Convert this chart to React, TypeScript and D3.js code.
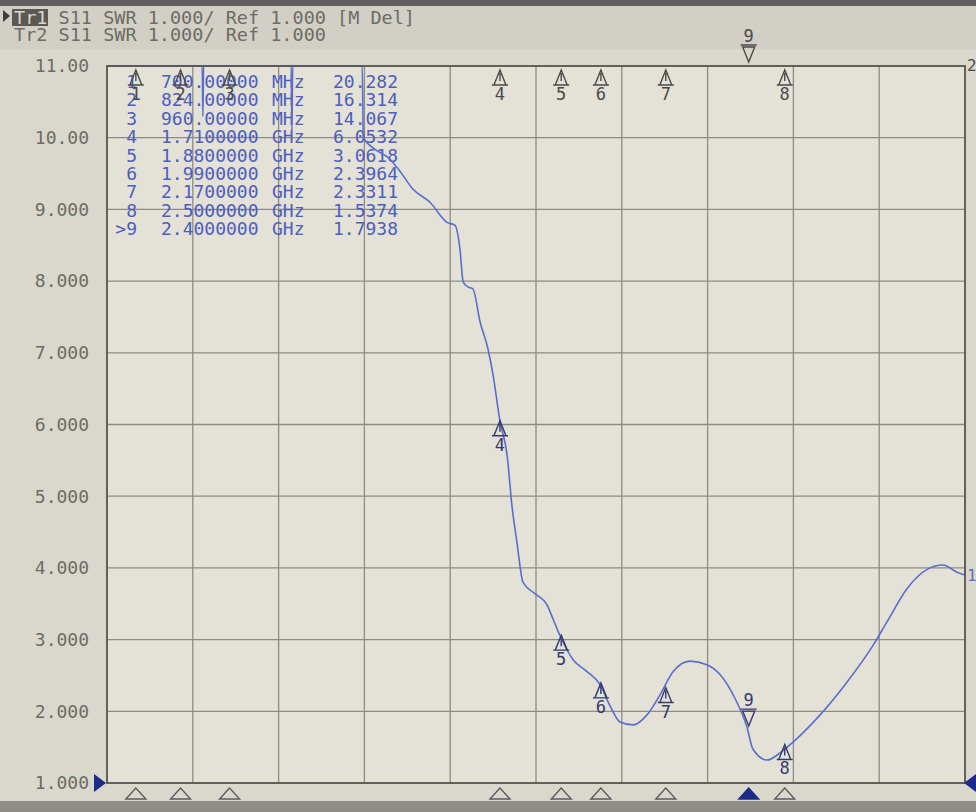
import React, { useEffect, useRef } from 'react';
import * as d3 from 'd3';

// header of the analyzer screen
const traceNames = ['Tr1', 'Tr2'];
const headerLines = ['S11 SWR 1.000/ Ref 1.000 [M Del]', 'S11 SWR 1.000/ Ref 1.000'];

// y axis (SWR)
const yTickValues = [11, 10, 9, 8, 7, 6, 5, 4, 3, 2, 1];
const yTickLabels = ['11.00', '10.00', '9.000', '8.000', '7.000', '6.000', '5.000', '4.000', '3.000', '2.000', '1.000'];

// stimulus range in GHz, 10 divisions
const freqRange = [0.62, 3.0];
const xDivisions = 10;

// Tr1 trace (GHz, SWR); values above 11 are off-scale
const traceFreq = [
  0.62, 0.884, 0.886, 0.888, 1.131, 1.133, 1.135, 1.328, 1.331, 1.36, 1.405, 1.433, 1.469, 1.516,
  1.563, 1.585, 1.599, 1.608, 1.621, 1.635, 1.655, 1.677, 1.691, 1.71, 1.73, 1.743, 1.757, 1.774,
  1.802, 1.841, 1.857, 1.877, 1.913, 1.95, 1.988, 2.015, 2.043, 2.079, 2.118, 2.154, 2.19, 2.237,
  2.284, 2.321, 2.357, 2.395, 2.412, 2.451, 2.487, 2.523, 2.598, 2.673, 2.745, 2.784, 2.839, 2.895,
  2.939, 2.978, 3.0,
];
const traceSwr = [
  13, 13, 10.3, 13, 13, 10.1, 13, 13, 10.0, 9.85, 9.7, 9.53, 9.28, 9.1,
  8.82, 8.78, 8.45, 7.99, 7.92, 7.89, 7.43, 7.05, 6.69, 6.05, 5.57, 4.88, 4.36, 3.8,
  3.66, 3.48, 3.29, 3.05, 2.72, 2.56, 2.37, 2.08, 1.85, 1.81, 1.95, 2.23, 2.55, 2.7,
  2.65, 2.51, 2.23, 1.78, 1.47, 1.32, 1.42, 1.57, 1.95, 2.41, 2.92, 3.25, 3.71, 3.98,
  4.04, 3.94, 3.9,
];

// marker table
const markerIds = ['1', '2', '3', '4', '5', '6', '7', '8', '9'];
const markerFreqText = ['700.00000', '824.00000', '960.00000', '1.7100000', '1.8800000', '1.9900000', '2.1700000', '2.5000000', '2.4000000'];
const markerUnits = ['MHz', 'MHz', 'MHz', 'GHz', 'GHz', 'GHz', 'GHz', 'GHz', 'GHz'];
const markerFreq = [0.7, 0.824, 0.96, 1.71, 1.88, 1.99, 2.17, 2.5, 2.4];
const markerSwr = [20.282, 16.314, 14.067, 6.0532, 3.0618, 2.3964, 2.3311, 1.5374, 1.7938];
const markerValueText = ['20.282', '16.314', '14.067', '6.0532', '3.0618', '2.3964', '2.3311', '1.5374', '1.7938'];
const activeMarker = '9';

const App = () => {
  const ref = useRef<SVGSVGElement | null>(null);

  useEffect(() => {
    if (!ref.current) return;
    const W = 976;
    const H = 812;
    const plot = { left: 107, right: 965, top: 66, bottom: 783 };
    const mono = '"DejaVu Sans Mono", monospace';
    const traceColor = '#5b6dcc';
    const tableColor = '#4d5dbf';
    const markColor = '#353a6e';
    const greyText = '#6d6b64';

    const svg = d3.select(ref.current);
    svg.selectAll('*').remove();
    svg.attr('width', W).attr('height', H);

    // background
    svg.append('rect').attr('width', W).attr('height', H).attr('fill', '#dad8cc');
    svg.append('rect').attr('width', W).attr('height', 6).attr('fill', '#5f5e5a');
    svg.append('rect').attr('y', 6).attr('width', W).attr('height', 44).attr('fill', '#d2d0c6');
    svg.append('rect').attr('y', 801).attr('width', W).attr('height', 11).attr('fill', '#8f8d86');
    svg.append('rect')
      .attr('x', plot.left).attr('y', plot.top)
      .attr('width', plot.right - plot.left).attr('height', plot.bottom - plot.top)
      .attr('fill', '#e4e2d7');

    const x = d3.scaleLinear().domain(freqRange).range([plot.left, plot.right]);
    const y = d3.scaleLinear().domain([1, 11]).range([plot.bottom, plot.top]).clamp(true);

    // grid
    const grid = svg.append('g').attr('stroke', '#8c8b85').attr('stroke-width', 1.3);
    d3.range(1, xDivisions).forEach((i) => {
      const f = freqRange[0] + (i * (freqRange[1] - freqRange[0])) / xDivisions;
      grid.append('line').attr('x1', x(f)).attr('x2', x(f)).attr('y1', plot.top).attr('y2', plot.bottom);
    });
    yTickValues.slice(1, -1).forEach((v) => {
      grid.append('line').attr('x1', plot.left).attr('x2', plot.right).attr('y1', y(v)).attr('y2', y(v));
    });

    // y labels
    svg.append('g').selectAll('text')
      .data(yTickValues)
      .enter().append('text')
      .attr('x', 89)
      .attr('y', (d) => y(d))
      .attr('dy', '0.35em')
      .attr('text-anchor', 'end')
      .attr('font-family', mono)
      .attr('font-size', 18)
      .attr('fill', greyText)
      .text((d, i) => yTickLabels[i]);

    // header
    svg.append('path').attr('d', 'M3,10 L10,16 L3,22 Z').attr('fill', '#3c3c3c');
    svg.append('rect').attr('x', 12).attr('y', 9).attr('width', 36).attr('height', 17).attr('fill', '#5a5954');
    traceNames.forEach((name, i) => {
      const base = i === 0 ? 24 : 41;
      svg.append('text')
        .attr('x', 14).attr('y', base)
        .attr('font-family', mono).attr('font-size', 18.5)
        .attr('fill', i === 0 ? '#d8d6cc' : greyText)
        .text(name);
      svg.append('text')
        .attr('x', 14 + 4 * 11.15).attr('y', base)
        .attr('font-family', mono).attr('font-size', 18.5)
        .attr('fill', greyText)
        .text(headerLines[i]);
    });

    // marker table
    const table = svg.append('g').attr('font-family', mono).attr('font-size', 18).attr('fill', tableColor);
    markerIds.forEach((id, i) => {
      const base = 88 + i * 18.4;
      table.append('text').attr('x', 137).attr('y', base).attr('text-anchor', 'end')
        .text(id === activeMarker ? '>' + id : id);
      table.append('text').attr('x', 161).attr('y', base).text(markerFreqText[i]);
      table.append('text').attr('x', 272).attr('y', base).text(markerUnits[i]);
      table.append('text').attr('x', 398).attr('y', base).attr('text-anchor', 'end').text(markerValueText[i]);
    });

    // trace
    const pts = traceFreq.map((f, i) => [f, traceSwr[i]] as [number, number]);
    const line = d3.line<[number, number]>()
      .x((d) => x(d[0]))
      .y((d) => y(d[1]))
      .curve(d3.curveMonotoneX);
    svg.append('path')
      .datum(pts)
      .attr('d', line)
      .attr('fill', 'none')
      .attr('stroke', traceColor)
      .attr('stroke-width', 1.6)
      .attr('stroke-linejoin', 'round');

    // frame over the trace (off-scale part runs along the top edge)
    svg.append('rect')
      .attr('x', plot.left).attr('y', plot.top)
      .attr('width', plot.right - plot.left).attr('height', plot.bottom - plot.top)
      .attr('fill', 'none').attr('stroke', '#55544f').attr('stroke-width', 1.8);

    // marker symbols
    const upMarker = (g: any, cx: number, cy: number, label: string, color: string) => {
      g.append('path')
        .attr('d', `M${cx},${cy} L${cx - 6},${cy + 15} L${cx + 6},${cy + 15} Z M${cx - 8},${cy + 15} H${cx + 8} M${cx},${cy + 3} V${cy + 11}`)
        .attr('fill', 'none').attr('stroke', color).attr('stroke-width', 1.4);
      g.append('text').attr('x', cx).attr('y', cy + 30).attr('text-anchor', 'middle')
        .attr('font-family', mono).attr('font-size', 17).attr('fill', color).text(label);
    };
    const downMarker = (g: any, cx: number, cy: number, label: string, color: string) => {
      g.append('path')
        .attr('d', `M${cx},${cy} L${cx - 6},${cy - 15} L${cx + 6},${cy - 15} Z M${cx - 8},${cy - 17} H${cx + 8}`)
        .attr('fill', 'none').attr('stroke', color).attr('stroke-width', 1.4);
      g.append('text').attr('x', cx).attr('y', cy - 20).attr('text-anchor', 'middle')
        .attr('font-family', mono).attr('font-size', 17).attr('fill', color).text(label);
    };

    const marks = svg.append('g');
    markerIds.forEach((id, i) => {
      const cx = x(markerFreq[i]);
      // Tr2 markers sit on the top edge (trace off-scale)
      if (id === activeMarker) downMarker(marks, cx, plot.top - 4, id, '#4a4a48');
      else upMarker(marks, cx, plot.top + 4, id, '#4a4a48');
      // Tr1 markers on the trace when on-scale
      if (markerSwr[i] <= 11) {
        if (id === activeMarker) downMarker(marks, cx, y(markerSwr[i]), id, markColor);
        else upMarker(marks, cx, y(markerSwr[i]), id, markColor);
      }
      // stimulus markers under the grid
      svg.append('path')
        .attr('d', `M${cx},${plot.bottom + 5} L${cx - 10},${plot.bottom + 16} L${cx + 10},${plot.bottom + 16} Z`)
        .attr('fill', id === activeMarker ? '#1d2c8a' : 'none')
        .attr('stroke', id === activeMarker ? '#1d2c8a' : '#5b5b62')
        .attr('stroke-width', 1.4);
    });

    // reference position arrows and trace end labels
    svg.append('path')
      .attr('d', `M${plot.left - 13},${y(1) - 9} L${plot.left - 1},${y(1)} L${plot.left - 13},${y(1) + 9} Z`)
      .attr('fill', '#1d2c8a');
    svg.append('path')
      .attr('d', `M${plot.right + 11},${y(1) - 9} L${plot.right - 1},${y(1)} L${plot.right + 11},${y(1) + 9} Z`)
      .attr('fill', '#1d2c8a');
    svg.append('text')
      .attr('x', plot.right + 2).attr('y', y(traceSwr[traceSwr.length - 1]) + 6)
      .attr('font-family', mono).attr('font-size', 16).attr('fill', traceColor).text('1');
    svg.append('text')
      .attr('x', plot.right + 2).attr('y', plot.top + 5)
      .attr('font-family', mono).attr('font-size', 16).attr('fill', '#4a4a48').text('2');
  }, []);

  return <svg ref={ref} style={{ position: 'absolute', left: 0, top: 0, display: 'block' }} />;
};

export default App;
